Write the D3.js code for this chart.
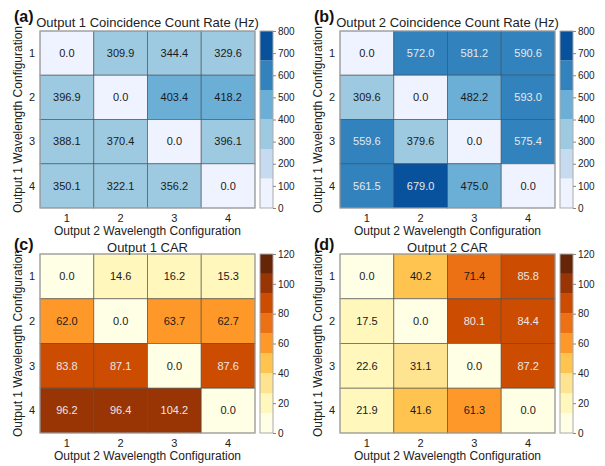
<!DOCTYPE html>
<html>
<head>
<meta charset="utf-8">
<script src="https://cdn.jsdelivr.net/npm/d3@7"></script>
<style>
  body { margin: 0; background: #fff; }
  text { font-family: "Liberation Sans", Arial, sans-serif; }
</style>
</head>
<body>
<div id="main"></div>
<script>
const configs = ["1", "2", "3", "4"];

// rows = output 1 config, columns = output 2 config
const rateOut1 = [
  [0.0, 309.9, 344.4, 329.6],
  [396.9, 0.0, 403.4, 418.2],
  [388.1, 370.4, 0.0, 396.1],
  [350.1, 322.1, 356.2, 0.0]
];
const rateOut2 = [
  [0.0, 572.0, 581.2, 590.6],
  [309.6, 0.0, 482.2, 593.0],
  [559.6, 379.6, 0.0, 575.4],
  [561.5, 679.0, 475.0, 0.0]
];
const carOut1 = [
  [0.0, 14.6, 16.2, 15.3],
  [62.0, 0.0, 63.7, 62.7],
  [83.8, 87.1, 0.0, 87.6],
  [96.2, 96.4, 104.2, 0.0]
];
const carOut2 = [
  [0.0, 40.2, 71.4, 85.8],
  [17.5, 0.0, 80.1, 84.4],
  [22.6, 31.1, 0.0, 87.2],
  [21.9, 41.6, 61.3, 0.0]
];

const rateTicks = [0, 100, 200, 300, 400, 500, 600, 700, 800];
const carTicks = [0, 20, 40, 60, 80, 100, 120];
const blues = ["#eff3ff", "#c6dbef", "#9ecae1", "#6baed6", "#3182bd", "#08519c"];
const ylorbr = ["#ffffe5", "#fff7bc", "#fee391", "#fec44f", "#fe9929", "#ec7014", "#cc4c02", "#993404", "#662506"];

const width = 605, height = 466;

const svg = d3.select("#main").append("svg")
  .attr("width", width)
  .attr("height", height);

function drawPanel(ox, oy, letter, title, values, domain, colors, ticks, darkFrom, rowH, titleOff, letterOff) {
  const g = svg.append("g").attr("transform", `translate(${ox},${oy})`);
  const left = 40, right = 255, top = 0, bottom = rowH * 4;

  const x = d3.scaleBand().domain(configs).range([left, right]);
  const y = d3.scaleBand().domain(configs).range([top, bottom]);
  const color = d3.scaleQuantize().domain(domain).range(colors);

  const cells = [];
  values.forEach((row, i) => row.forEach((v, j) => cells.push({ r: configs[i], c: configs[j], v: v })));

  g.append("g").selectAll("rect")
    .data(cells)
    .enter()
    .append("rect")
    .attr("x", d => x(d.c))
    .attr("y", d => y(d.r))
    .attr("width", x.bandwidth())
    .attr("height", y.bandwidth())
    .style("fill", d => color(d.v))
    .style("stroke", "#4a4a4a")
    .style("stroke-opacity", 0.6)
    .style("stroke-width", 1);

  g.append("rect")
    .attr("x", left).attr("y", top)
    .attr("width", right - left).attr("height", bottom - top)
    .style("fill", "none").style("stroke", "#aaa").style("stroke-width", 1);

  g.append("g").selectAll("text")
    .data(cells)
    .enter()
    .append("text")
    .attr("x", d => x(d.c) + x.bandwidth() / 2)
    .attr("y", d => y(d.r) + y.bandwidth() / 2)
    .attr("dy", "0.35em")
    .attr("text-anchor", "middle")
    .style("font-size", "11px")
    .style("fill", d => colors.indexOf(color(d.v)) >= darkFrom ? "#e8e8e8" : "#1a1a1a")
    .text(d => d.v.toFixed(1));

  // row labels
  g.append("g").selectAll("text")
    .data(configs)
    .enter()
    .append("text")
    .attr("x", left - 5)
    .attr("y", d => y(d) + y.bandwidth() / 2)
    .attr("dy", "0.35em")
    .attr("text-anchor", "end")
    .style("font-size", "11px")
    .style("fill", "#222")
    .text(d => d);

  // column labels
  g.append("g").selectAll("text")
    .data(configs)
    .enter()
    .append("text")
    .attr("x", d => x(d) + x.bandwidth() / 2)
    .attr("y", bottom + 14)
    .attr("text-anchor", "middle")
    .style("font-size", "11px")
    .style("fill", "#222")
    .text(d => d);

  g.append("text")
    .attr("x", (left + right) / 2)
    .attr("y", bottom + 27)
    .attr("text-anchor", "middle")
    .style("font-size", "12px")
    .style("fill", "#222")
    .text("Output 2 Wavelength Configuration");

  g.append("text")
    .attr("transform", `translate(22,${bottom / 2}) rotate(-90)`)
    .attr("text-anchor", "middle")
    .style("font-size", "12px")
    .style("fill", "#222")
    .text("Output 1 Wavelength Configuration");

  g.append("text")
    .attr("x", (left + right) / 2)
    .attr("y", top - titleOff)
    .attr("text-anchor", "middle")
    .style("font-size", "13px")
    .style("fill", "#222")
    .text(title);

  g.append("text")
    .attr("x", 14)
    .attr("y", top - letterOff)
    .style("font-size", "16px")
    .style("font-weight", "bold")
    .style("fill", "#111")
    .text(letter);

  // colour bar
  const cbX = 260, cbW = 13;
  const cy = d3.scaleLinear().domain(domain).range([bottom, top]);
  const step = (domain[1] - domain[0]) / colors.length;
  g.append("g").selectAll("rect")
    .data(colors)
    .enter()
    .append("rect")
    .attr("x", cbX)
    .attr("y", (d, i) => cy(domain[0] + step * (i + 1)))
    .attr("width", cbW)
    .attr("height", (d, i) => cy(domain[0] + step * i) - cy(domain[0] + step * (i + 1)))
    .style("fill", d => d);
  g.append("rect")
    .attr("x", cbX).attr("y", top)
    .attr("width", cbW).attr("height", bottom - top)
    .style("fill", "none").style("stroke", "#aaa");

  const axis = d3.axisRight(cy).tickValues(ticks).tickSize(3).tickPadding(2);
  const ax = g.append("g")
    .attr("transform", `translate(${cbX + cbW},0)`)
    .call(axis);
  ax.select(".domain").remove();
  ax.selectAll("line").style("stroke", "#888");
  ax.selectAll("text").style("font-size", "10px").style("fill", "#222")
    .style("font-family", '"Liberation Sans", Arial, sans-serif');
}

drawPanel(0, 31, "(a)", "Output 1 Coincidence Count Rate (Hz)", rateOut1, [0, 800], blues, rateTicks, 4, 44.25, 4, 9);
drawPanel(300, 31, "(b)", "Output 2 Coincidence Count Rate (Hz)", rateOut2, [0, 800], blues, rateTicks, 4, 44.25, 4, 9);
drawPanel(0, 254, "(c)", "Output 1 CAR", carOut1, [0, 120], ylorbr, carTicks, 6, 44.75, 2, 4);
drawPanel(300, 254, "(d)", "Output 2 CAR", carOut2, [0, 120], ylorbr, carTicks, 6, 44.75, 2, 4);
</script>
</body>
</html>
